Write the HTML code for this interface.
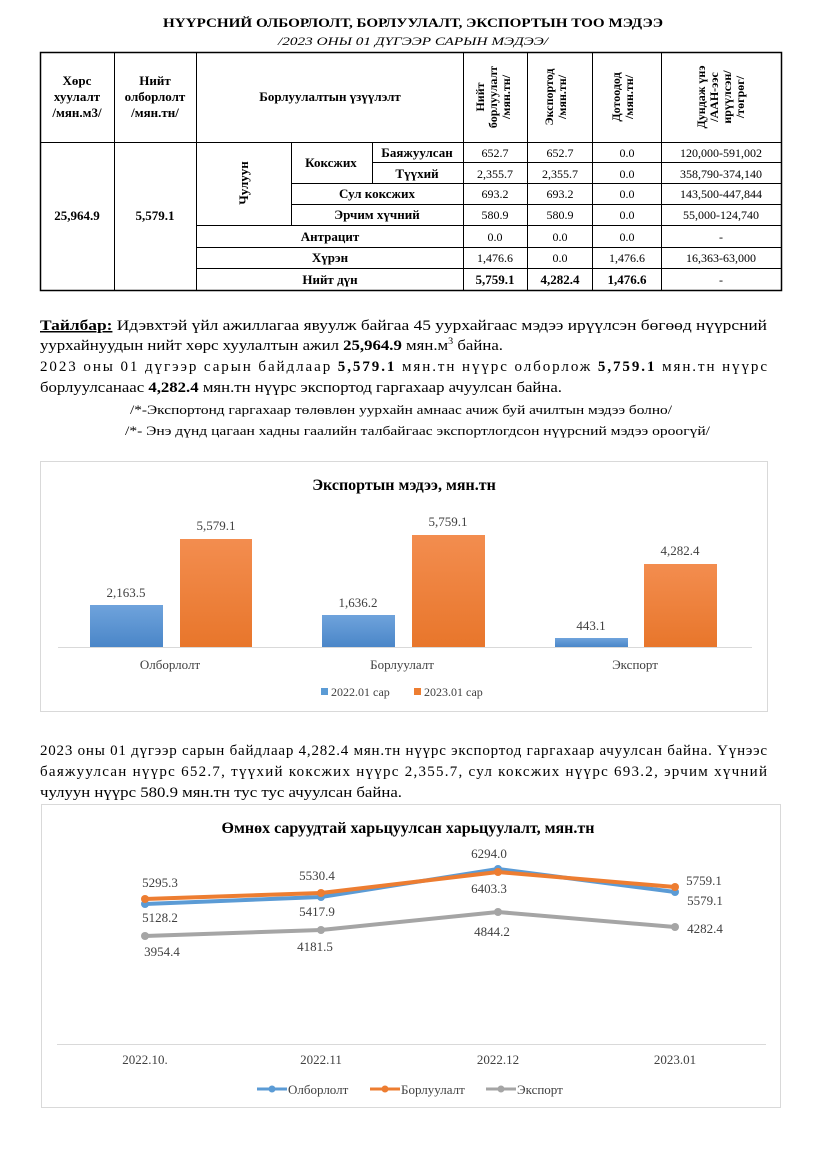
<!DOCTYPE html>
<html><head><meta charset="utf-8"><style>
html,body{margin:0;padding:0;background:#fff}
svg{display:block;font-family:"Liberation Serif",serif}
</style></head><body>
<svg width="827" height="1170" viewBox="0 0 827 1170" xmlns="http://www.w3.org/2000/svg">
<rect width="827" height="1170" fill="#fff"/>
<text x="413" y="27" text-anchor="middle" font-size="13" font-weight="bold" textLength="500" lengthAdjust="spacingAndGlyphs">НҮҮРСНИЙ ОЛБОРЛОЛТ, БОРЛУУЛАЛТ, ЭКСПОРТЫН ТОО МЭДЭЭ</text>
<text x="413" y="45" text-anchor="middle" font-size="12" font-style="italic" textLength="270" lengthAdjust="spacingAndGlyphs">/2023 ОНЫ 01 ДҮГЭЭР САРЫН МЭДЭЭ/</text>

<g stroke="#000" stroke-width="1" fill="none">
<rect x="40.5" y="52.5" width="741" height="238" stroke-width="1.5"/>
<line x1="40" y1="142.5" x2="781" y2="142.5"/>
<line x1="114.5" y1="52" x2="114.5" y2="290"/>
<line x1="196.5" y1="52" x2="196.5" y2="290"/>
<line x1="463.5" y1="52" x2="463.5" y2="290"/>
<line x1="527.5" y1="52" x2="527.5" y2="290"/>
<line x1="592.5" y1="52" x2="592.5" y2="290"/>
<line x1="661.5" y1="52" x2="661.5" y2="290"/>
<line x1="291.5" y1="142" x2="291.5" y2="225"/>
<line x1="372.5" y1="142" x2="372.5" y2="183"/>
<line x1="372" y1="162.5" x2="781" y2="162.5"/>
<line x1="291" y1="183.5" x2="781" y2="183.5"/>
<line x1="291" y1="204.5" x2="781" y2="204.5"/>
<line x1="196" y1="225.5" x2="781" y2="225.5"/>
<line x1="196" y1="247.5" x2="781" y2="247.5"/>
<line x1="196" y1="268.5" x2="781" y2="268.5"/>
</g>
<g font-size="13" font-weight="bold" text-anchor="middle">
<text x="77" y="85">Хөрс</text><text x="77" y="101">хуулалт</text><text x="77" y="117">/мян.м3/</text>
<text x="155" y="85">Нийт</text><text x="155" y="101">олборлолт</text><text x="155" y="117">/мян.тн/</text>
<text x="330" y="101">Борлуулалтын үзүүлэлт</text>
<g font-size="12">
<text transform="translate(484,97) rotate(-90)">Нийт</text>
<text transform="translate(497,97) rotate(-90)">борлуулалт</text>
<text transform="translate(510,97) rotate(-90)">/мян.тн/</text>
<text transform="translate(553,97) rotate(-90)">Экспортод</text>
<text transform="translate(566,97) rotate(-90)">/мян.тн/</text>
<text transform="translate(620,97) rotate(-90)">Дотоодод</text>
<text transform="translate(633,97) rotate(-90)">/мян.тн/</text>
<text transform="translate(705,97) rotate(-90)">Дундаж үнэ</text>
<text transform="translate(718,97) rotate(-90)">/ААН-ээс</text>
<text transform="translate(731,97) rotate(-90)">ирүүлсэн/</text>
<text transform="translate(744,97) rotate(-90)">/төгрөг/</text>
</g>
<text x="77" y="220">25,964.9</text>
<text x="155" y="220">5,579.1</text>
<text transform="translate(248,183) rotate(-90)">Чулуун</text>
<text x="331" y="167">Коксжих</text>
<text x="417" y="157">Баяжуулсан</text>
<text x="417" y="178">Түүхий</text>
<text x="377" y="198">Сул коксжих</text>
<text x="377" y="219">Эрчим хүчний</text>
<text x="330" y="241">Антрацит</text>
<text x="330" y="262">Хүрэн</text>
<text x="330" y="284">Нийт  дүн</text>
<text x="495" y="284">5,759.1</text><text x="560" y="284">4,282.4</text><text x="627" y="284">1,476.6</text>
</g>
<g font-size="12" text-anchor="middle">
<text x="495" y="157">652.7</text><text x="560" y="157">652.7</text><text x="627" y="157">0.0</text><text x="721" y="157">120,000-591,002</text>
<text x="495" y="178">2,355.7</text><text x="560" y="178">2,355.7</text><text x="627" y="178">0.0</text><text x="721" y="178">358,790-374,140</text>
<text x="495" y="198">693.2</text><text x="560" y="198">693.2</text><text x="627" y="198">0.0</text><text x="721" y="198">143,500-447,844</text>
<text x="495" y="219">580.9</text><text x="560" y="219">580.9</text><text x="627" y="219">0.0</text><text x="721" y="219">55,000-124,740</text>
<text x="495" y="241">0.0</text><text x="560" y="241">0.0</text><text x="627" y="241">0.0</text><text x="721" y="241">-</text>
<text x="495" y="262">1,476.6</text><text x="560" y="262">0.0</text><text x="627" y="262">1,476.6</text><text x="721" y="262">16,363-63,000</text>
<text x="721" y="284">-</text>
</g>

<g font-size="15">
<text x="40" y="330" textLength="727" lengthAdjust="spacingAndGlyphs"><tspan font-weight="bold" text-decoration="underline">Тайлбар:</tspan> Идэвхтэй үйл ажиллагаа явуулж байгаа 45 уурхайгаас мэдээ ирүүлсэн бөгөөд нүүрсний</text>
<text x="40" y="350" textLength="463" lengthAdjust="spacingAndGlyphs">уурхайнуудын нийт хөрс хуулалтын ажил <tspan font-weight="bold">25,964.9</tspan> мян.м<tspan font-size="9" dy="-6">3</tspan><tspan dy="6"> байна.</tspan></text>
<text x="40" y="371" textLength="727" lengthAdjust="spacing">2023  оны  01  дүгээр  сарын  байдлаар  <tspan font-weight="bold">5,579.1</tspan>  мян.тн  нүүрс  олборлож  <tspan font-weight="bold">5,759.1</tspan>  мян.тн  нүүрс</text>
<text x="40" y="392" textLength="522" lengthAdjust="spacingAndGlyphs">борлуулсанаас <tspan font-weight="bold">4,282.4</tspan> мян.тн нүүрс экспортод гаргахаар ачуулсан байна.</text>
<text x="130" y="414" font-size="13" textLength="542" lengthAdjust="spacingAndGlyphs">/*-Экспортонд гаргахаар төлөвлөн уурхайн амнаас ачиж буй ачилтын мэдээ болно/</text>
<text x="125" y="435" font-size="13" textLength="585" lengthAdjust="spacingAndGlyphs">/*- Энэ дүнд цагаан хадны гаалийн талбайгаас экспортлогдсон нүүрсний мэдээ ороогүй/</text>
</g>

<!-- bar chart -->
<rect x="40.5" y="461.5" width="727" height="250" fill="#fff" stroke="#d9d9d9"/>
<text x="404" y="490" text-anchor="middle" font-size="16" font-weight="bold">Экспортын мэдээ, мян.тн</text>
<line x1="58" y1="647.5" x2="752" y2="647.5" stroke="#d9d9d9"/>
<defs>
<linearGradient id="gb" x1="0" y1="0" x2="0" y2="1"><stop offset="0" stop-color="#6fa3dc"/><stop offset="1" stop-color="#4a86c8"/></linearGradient>
<linearGradient id="go" x1="0" y1="0" x2="0" y2="1"><stop offset="0" stop-color="#f38d4f"/><stop offset="1" stop-color="#e8762b"/></linearGradient>
</defs>
<rect x="90" y="605" width="73" height="42" fill="url(#gb)"/>
<rect x="180" y="539" width="72" height="108" fill="url(#go)"/>
<rect x="322" y="615" width="73" height="32" fill="url(#gb)"/>
<rect x="412" y="535" width="73" height="112" fill="url(#go)"/>
<rect x="555" y="638" width="73" height="9" fill="url(#gb)"/>
<rect x="644" y="564" width="73" height="83" fill="url(#go)"/>
<g font-size="13" text-anchor="middle" fill="#404040">
<text x="126" y="597">2,163.5</text><text x="216" y="530">5,579.1</text>
<text x="358" y="607">1,636.2</text><text x="448" y="526">5,759.1</text>
<text x="591" y="630">443.1</text><text x="680" y="555">4,282.4</text>
<text x="170" y="669">Олборлолт</text><text x="402" y="669">Борлуулалт</text><text x="635" y="669">Экспорт</text>
</g>
<rect x="321" y="688" width="7" height="7" fill="#5b9bd5"/>
<text x="331" y="696" font-size="12" fill="#404040">2022.01 сар</text>
<rect x="414" y="688" width="7" height="7" fill="#ed7d31"/>
<text x="424" y="696" font-size="12" fill="#404040">2023.01 сар</text>

<g font-size="15">
<text x="40" y="755" textLength="727" lengthAdjust="spacing">2023 оны 01 дүгээр сарын байдлаар 4,282.4 мян.тн нүүрс экспортод гаргахаар ачуулсан байна. Үүнээс</text>
<text x="40" y="776" textLength="727" lengthAdjust="spacing">баяжуулсан нүүрс 652.7, түүхий коксжих нүүрс 2,355.7, сул коксжих нүүрс 693.2, эрчим хүчний</text>
<text x="40" y="797" textLength="362" lengthAdjust="spacingAndGlyphs">чулуун нүүрс 580.9 мян.тн тус тус ачуулсан байна.</text>
</g>

<!-- line chart -->
<rect x="41.5" y="804.5" width="739" height="303" fill="#fff" stroke="#d9d9d9"/>
<text x="408" y="833" text-anchor="middle" font-size="16" font-weight="bold">Өмнөх саруудтай харьцуулсан харьцуулалт, мян.тн</text>
<line x1="57" y1="1044.5" x2="766" y2="1044.5" stroke="#d9d9d9"/>
<g fill="none" stroke-width="4" stroke-linejoin="round">
<polyline points="145,904 321,897 498,869 675,892" stroke="#5b9bd5"/>
<polyline points="145,899 321,893 498,872 675,887" stroke="#ed7d31"/>
<polyline points="145,936 321,930 498,912 675,927" stroke="#a5a5a5"/>
</g>
<g fill="#5b9bd5"><circle cx="145" cy="904" r="4"/><circle cx="321" cy="897" r="4"/><circle cx="498" cy="869" r="4"/><circle cx="675" cy="892" r="4"/></g>
<g fill="#ed7d31"><circle cx="145" cy="899" r="4"/><circle cx="321" cy="893" r="4"/><circle cx="498" cy="872" r="4"/><circle cx="675" cy="887" r="4"/></g>
<g fill="#a5a5a5"><circle cx="145" cy="936" r="4"/><circle cx="321" cy="930" r="4"/><circle cx="498" cy="912" r="4"/><circle cx="675" cy="927" r="4"/></g>
<g font-size="13" text-anchor="middle" fill="#404040">
<text x="160" y="887">5295.3</text><text x="160" y="922">5128.2</text>
<text x="317" y="880">5530.4</text><text x="317" y="916">5417.9</text>
<text x="489" y="858">6294.0</text><text x="489" y="893">6403.3</text>
<text x="704" y="885">5759.1</text><text x="705" y="905">5579.1</text>
<text x="162" y="956">3954.4</text><text x="315" y="951">4181.5</text>
<text x="492" y="936">4844.2</text><text x="705" y="933">4282.4</text>
<text x="145" y="1064">2022.10.</text><text x="321" y="1064">2022.11</text>
<text x="498" y="1064">2022.12</text><text x="675" y="1064">2023.01</text>
</g>
<g stroke-width="3">
<line x1="257" y1="1089" x2="287" y2="1089" stroke="#5b9bd5"/><circle cx="272" cy="1089" r="3.5" fill="#5b9bd5"/>
<line x1="370" y1="1089" x2="400" y2="1089" stroke="#ed7d31"/><circle cx="385" cy="1089" r="3.5" fill="#ed7d31"/>
<line x1="486" y1="1089" x2="516" y2="1089" stroke="#a5a5a5"/><circle cx="501" cy="1089" r="3.5" fill="#a5a5a5"/>
</g>
<g font-size="13" fill="#404040">
<text x="288" y="1094">Олборлолт</text><text x="401" y="1094">Борлуулалт</text><text x="517" y="1094">Экспорт</text>
</g>
</svg>
</body></html>
